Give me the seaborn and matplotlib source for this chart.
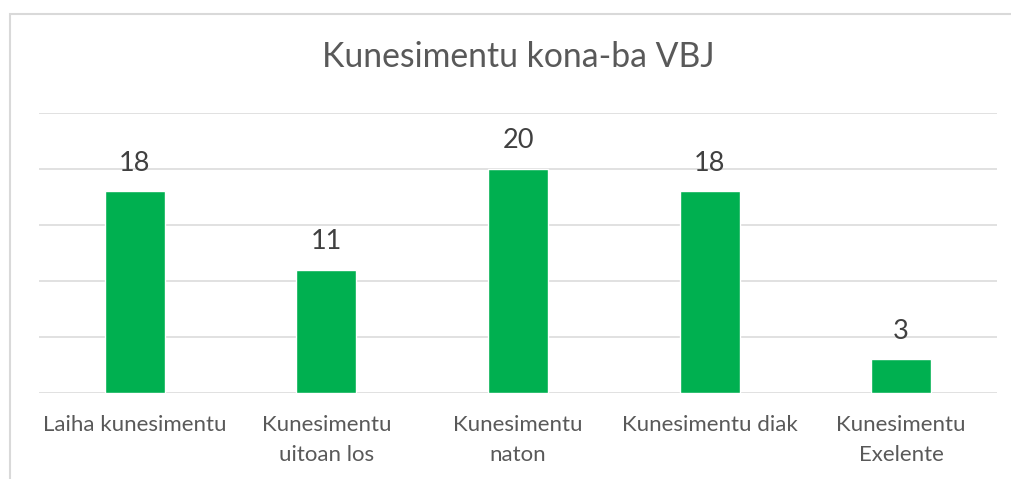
import matplotlib
matplotlib.use("Agg")
import matplotlib.pyplot as plt
import seaborn as sns
import pandas as pd
from matplotlib.patches import Rectangle

categories = ["Laiha kunesimentu", "Kunesimentu\nuitoan los", "Kunesimentu\nnaton",
              "Kunesimentu diak", "Kunesimentu\nExelente"]
values = [18, 11, 20, 18, 3]
title = "Kunesimentu kona-ba VBJ"

sns.set_theme(style="white")
plt.rcParams['font.family'] = ['Lato', 'DejaVu Sans']

fig = plt.figure(figsize=(10.12, 4.79), dpi=100)
ax = fig.add_axes([39/1012, 1-392.7/479, 958/1012, 280/479])

df = pd.DataFrame({"cat": categories, "val": values})
sns.barplot(data=df, x="cat", y="val", color="#00B050", saturation=1, width=0.313, ax=ax)

ax.set_ylim(0, 25)
ax.set_xlim(-0.5, 4.5)
ax.set_yticks([0, 5, 10, 15, 20, 25])
ax.set_yticklabels([])
ax.tick_params(axis='y', length=0)
ax.tick_params(axis='x', length=0, pad=16, labelsize=16, labelcolor="#595959")
for lab in ax.get_xticklabels():
    lab.set_linespacing(1.6)
ax.grid(axis='y', color="#D9D9D9", linewidth=1.1)
ax.set_axisbelow(True)
for s in ax.spines.values():
    s.set_visible(False)
ax.set_xlabel("")
ax.set_ylabel("")

for c in ax.containers:
    ax.bar_label(c, padding=11, fontsize=19.5, color="#404040")

fig.text(518/1012, 1-57/479, title, ha="center", va="center", fontsize=24.3, color="#595959")

fig.patches.append(Rectangle((10/1012, -0.2), 1.2, 0.2 + 1-14/479, transform=fig.transFigure,
                             fill=False, edgecolor="#D9D9D9", linewidth=1.5))

fig.savefig("out.png", dpi=100, facecolor="white")
